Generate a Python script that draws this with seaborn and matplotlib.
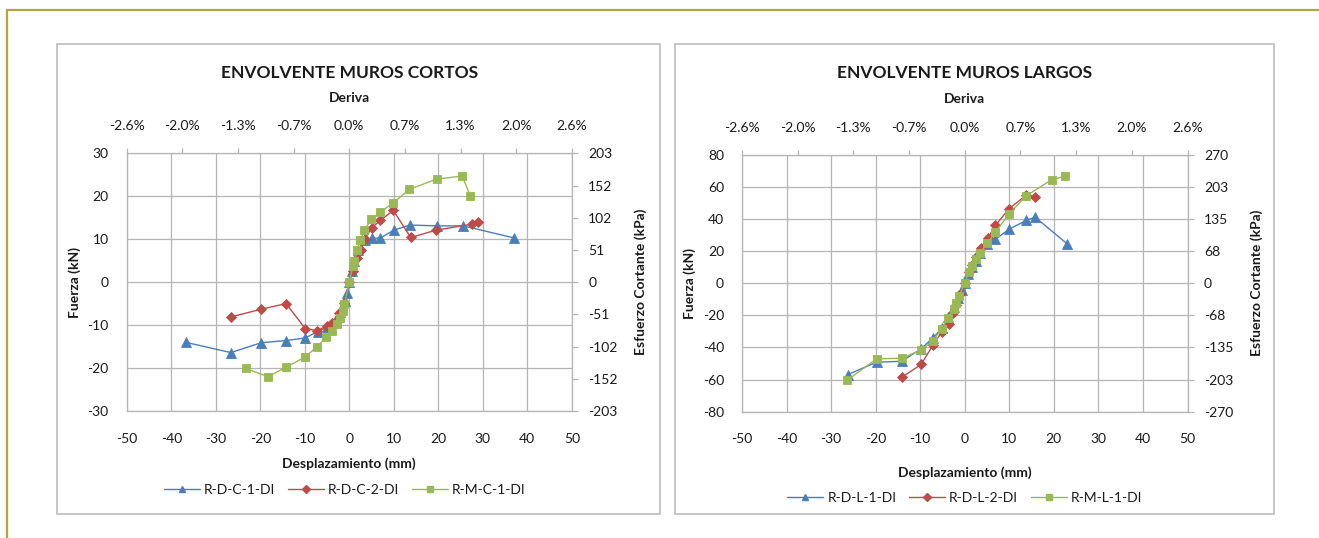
import matplotlib
matplotlib.use("Agg")
import matplotlib.pyplot as plt
import seaborn as sns
import pandas as pd
import numpy as np
from matplotlib.patches import Rectangle
from matplotlib.lines import Line2D

# ---------------- data ----------------
# ENVOLVENTE MUROS CORTOS
c_dc1_x = [-36.8, -26.6, -19.8, -14.2, -9.9, -7.1, -5.0, -3.0, -2.0, -1.0, -0.5, 0.0, 0.5, 1.0, 2.0, 3.5, 5.0, 7.0, 10.0, 13.6, 19.8, 25.6, 37.0]
c_dc1_y = [-14.0, -16.4, -14.1, -13.6, -13.0, -11.5, -10.5, -9.0, -7.0, -4.5, -2.5, 0.0, 2.5, 5.0, 7.5, 9.8, 10.2, 10.3, 12.1, 13.3, 13.1, 13.1, 10.3]

c_dc2_x = [-26.6, -19.8, -14.2, -9.9, -7.2, -5.1, -3.9, -2.3, -1.1, 0.0, 0.9, 1.8, 2.6, 3.5, 5.0, 7.0, 9.9, 13.8, 19.5, 27.6, 28.9]
c_dc2_y = [-8.1, -6.3, -5.0, -10.8, -11.3, -10.2, -9.4, -7.1, -4.8, 0.0, 2.7, 5.7, 7.6, 10.1, 12.6, 14.4, 16.7, 10.4, 12.1, 13.5, 14.0]

c_mc1_x = [-23.2, -18.3, -14.2, -9.9, -7.2, -5.2, -3.8, -2.7, -2.1, -1.5, -1.1, 0.0, 0.8, 1.1, 1.8, 2.4, 3.4, 4.9, 7.0, 9.9, 13.5, 19.6, 25.4, 27.2]
c_mc1_y = [-20.1, -22.0, -19.8, -17.4, -15.0, -12.8, -11.4, -9.8, -8.3, -6.7, -5.2, 0.0, 3.7, 5.0, 7.4, 9.7, 12.1, 14.6, 16.3, 18.5, 21.6, 24.0, 24.7, 20.0]

# ENVOLVENTE MUROS LARGOS
l_dl1_x = [-26.3, -19.8, -14.1, -9.9, -7.1, -5.0, -3.7, -2.5, -1.5, -0.7, 0.0, 0.8, 1.6, 2.5, 3.5, 5.1, 6.9, 9.9, 13.8, 15.8, 22.9]
l_dl1_y = [-56.9, -49.2, -48.6, -41.0, -34.0, -27.8, -21.2, -15.0, -9.0, -4.0, 0.0, 6.0, 10.0, 14.0, 18.5, 24.1, 27.4, 33.5, 39.1, 41.1, 24.7]

l_dl2_x = [-14.0, -9.8, -7.1, -5.2, -3.6, -2.6, -1.9, -1.0, 0.0, 0.9, 1.6, 2.5, 3.6, 5.2, 6.9, 9.9, 13.7, 15.8]
l_dl2_y = [-58.3, -50.6, -38.4, -30.5, -25.3, -18.4, -13.3, -7.0, 0.0, 7.0, 11.5, 16.4, 21.8, 28.1, 36.0, 46.3, 54.6, 53.6]

l_ml1_x = [-26.4, -19.8, -14.1, -9.8, -7.2, -5.2, -3.7, -2.5, -1.9, -1.3, 0.0, 0.9, 1.6, 2.5, 3.4, 5.1, 6.9, 9.9, 13.7, 19.5, 22.6]
l_ml1_y = [-60.4, -47.1, -46.7, -41.7, -36.1, -28.4, -21.6, -16.0, -12.2, -8.1, 0.0, 6.9, 11.0, 14.8, 18.9, 24.9, 32.0, 42.8, 54.2, 64.4, 66.7]

names_cortos = ["R-D-C-1-DI", "R-D-C-2-DI", "R-M-C-1-DI"]
names_largos = ["R-D-L-1-DI", "R-D-L-2-DI", "R-M-L-1-DI"]

x_ticks = [-50, -40, -30, -20, -10, 0, 10, 20, 30, 40, 50]
deriva_labels = ["-2.6%", "-2.0%", "-1.3%", "-0.7%", "0.0%", "0.7%", "1.3%", "2.0%", "2.6%"]
cortos_yticks = [-30, -20, -10, 0, 10, 20, 30]
cortos_kpa_labels = ["-203", "-152", "-102", "-51", "0", "51", "102", "152", "203"]
largos_yticks = [-80, -60, -40, -20, 0, 20, 40, 60, 80]
largos_kpa_labels = ["-270", "-203", "-135", "-68", "0", "68", "135", "203", "270"]

# ---------------- style ----------------
sns.set_theme(style="white")
plt.rcParams['font.family'] = ['Lato', 'DejaVu Sans']
plt.rcParams['axes.unicode_minus'] = False

W, H = 1319, 538
fig = plt.figure(figsize=(W / 100, H / 100), dpi=100)

COLORS = ["#4A7EBB", "#BE4B48", "#98B954"]
MARKERS = ["^", "D", "s"]
MSIZES = [6.6, 5.6, 6.4]
GRID = "#b4b4b4"
TXT = "#1a1a1a"


def px_rect(x0, y0, x1, y1):
    return [x0 / W, 1 - y1 / H, (x1 - x0) / W, (y1 - y0) / H]


# outer border (olive)
fig.add_artist(Line2D([7 / W, 7 / W], [0, 1 - 9.5 / H], color="#b3a640", lw=1.6))
fig.add_artist(Line2D([7 / W, 1], [1 - 9.5 / H, 1 - 9.5 / H], color="#b3a640", lw=1.6))


def panel(rect, frame, title, xs, ys, names, ylim, yticks, kpa_max, kpa_labels,
          xlabelpad, legend_xy):
    # chart frame
    fx0, fy0, fx1, fy1 = frame
    fig.add_artist(Rectangle((fx0 / W, 1 - fy1 / H), (fx1 - fx0) / W, (fy1 - fy0) / H,
                             fill=False, edgecolor="#bcbcbc", lw=1.2))
    ax = fig.add_axes(px_rect(*rect))
    ax.set_facecolor("none")
    handles = []
    for i, (x, y, n) in enumerate(zip(xs, ys, names)):
        df = pd.DataFrame({"x": x, "y": y})
        sns.lineplot(data=df, x="x", y="y", ax=ax, sort=False, estimator=None,
                     color=COLORS[i], marker=MARKERS[i], markersize=MSIZES[i],
                     markeredgecolor=COLORS[i], markeredgewidth=0.6,
                     linewidth=1.0, legend=False, zorder=3 + i)
        handles.append(Line2D([], [], color=COLORS[i], marker=MARKERS[i],
                              markersize=MSIZES[i] * 0.75, markeredgecolor=COLORS[i],
                              linewidth=1.0, label=n))
    ax.set_xlim(-50, 50)
    ax.set_ylim(*ylim)
    ax.set_xticks(x_ticks)
    ax.set_yticks(yticks)
    ax.grid(True, color=GRID, lw=0.9)
    ax.set_axisbelow(True)
    for s in ax.spines.values():
        s.set_color(GRID)
        s.set_linewidth(0.9)
    ax.tick_params(axis="both", length=0, labelsize=10, colors=TXT)
    ax.tick_params(axis="x", pad=15.5)
    ax.tick_params(axis="y", pad=13)
    ax.set_xlabel("Desplazamiento (mm)", fontsize=10, fontweight="bold", color=TXT,
                  labelpad=xlabelpad)
    ax.set_ylabel("Fuerza (kN)", fontsize=10, fontweight="bold", color=TXT, labelpad=5)

    # secondary y (kPa)
    axr = ax.twinx()
    axr.set_ylim(-kpa_max, kpa_max)
    axr.set_yticks(np.linspace(-kpa_max, kpa_max, 9))
    axr.set_yticklabels(kpa_labels)
    axr.tick_params(axis="y", direction="out", length=4.3, width=0.9, color=GRID,
                    labelsize=10, labelcolor=TXT, pad=7.5)
    axr.set_ylabel("Esfuerzo Cortante (kPa)", fontsize=10, fontweight="bold",
                   color=TXT, labelpad=12)
    for s in axr.spines.values():
        s.set_visible(False)

    # secondary x (deriva)
    axt = ax.twiny()
    axt.set_xlim(-50, 50)
    axt.set_xticks(np.linspace(-50, 50, 9))
    axt.set_xticklabels(deriva_labels)
    axt.tick_params(axis="x", direction="out", length=3.6, width=0.9, color=GRID,
                    labelsize=10, labelcolor=TXT, pad=11.5)
    axt.set_xlabel("Deriva", fontsize=10, fontweight="bold", color=TXT, labelpad=13.5)
    for s in axt.spines.values():
        s.set_visible(False)

    cx = (rect[0] + rect[2]) / 2
    fig.text(cx / W, 1 - 73 / H, title, ha="center", va="center", fontsize=12.5,
             fontweight="bold", color=TXT)

    ax.legend(handles=handles, loc="center", bbox_to_anchor=legend_xy, ncol=3,
              frameon=False, fontsize=10, handlelength=2.6, columnspacing=0.9,
              handletextpad=0.3, labelcolor=TXT)
    return ax


panel((126.8, 153.3, 571.8, 411.0), (57, 44, 660, 514), "ENVOLVENTE MUROS CORTOS",
      [c_dc1_x, c_dc2_x, c_mc1_x], [c_dc1_y, c_dc2_y, c_mc1_y], names_cortos,
      (-30, 30), cortos_yticks, 203, cortos_kpa_labels, 9, (0.49, -0.307))

panel((742.0, 154.7, 1187.5, 411.7), (675, 44, 1274, 514), "ENVOLVENTE MUROS LARGOS",
      [l_dl1_x, l_dl2_x, l_ml1_x], [l_dl1_y, l_dl2_y, l_ml1_y], names_largos,
      (-80, 80), largos_yticks, 270, largos_kpa_labels, 15, (0.5, -0.337))

fig.savefig("out.png", dpi=100)
